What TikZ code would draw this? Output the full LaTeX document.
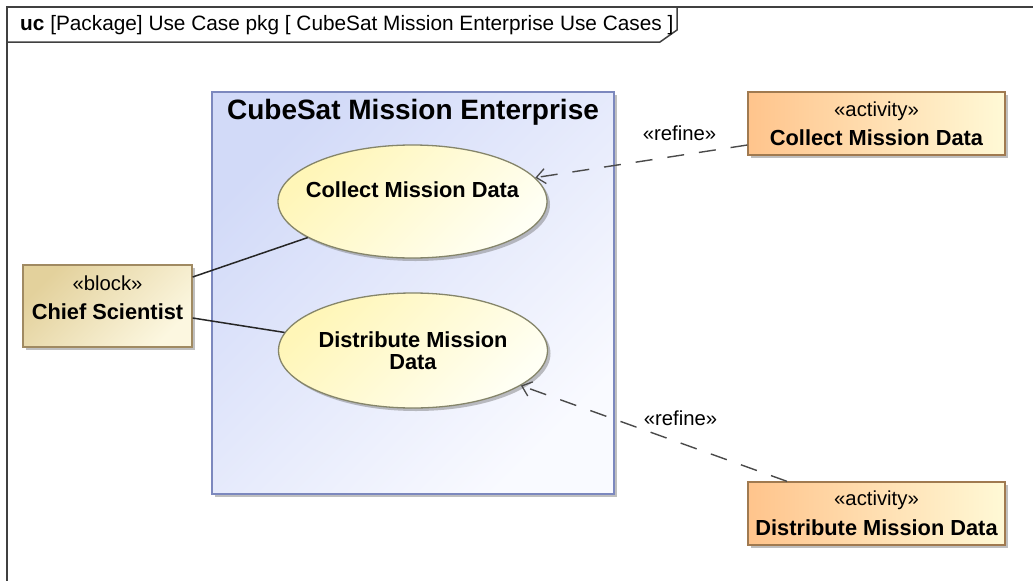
\documentclass[tikz,border=0pt]{standalone}
\usepackage{fontspec}
\setmainfont{Liberation Sans}
\usetikzlibrary{arrows.meta,shadows,shapes.geometric}
\definecolor{frameC}{HTML}{404040}
\definecolor{sysA}{HTML}{D2DAF8}
\definecolor{sysB}{HTML}{F9FAFF}
\definecolor{sysD}{HTML}{7C88BE}
\definecolor{ucA}{HTML}{FFF6B8}
\definecolor{ucB}{HTML}{FFFFF4}
\definecolor{ucD}{HTML}{85856A}
\definecolor{blkA}{HTML}{E3D19C}
\definecolor{blkB}{HTML}{FCF7E0}
\definecolor{blkD}{HTML}{A08A62}
\definecolor{actA}{HTML}{FFC48C}
\definecolor{actB}{HTML}{FFF9D6}
\definecolor{actD}{HTML}{A07A50}
\definecolor{lineC}{HTML}{4A4A4A}
\begin{document}
\begin{tikzpicture}[x=1pt,y=-1pt,
  regf/.style={font=\fontsize{20.3}{24}\selectfont},
  boldf/.style={font=\fontsize{21.8}{22.5}\selectfont\bfseries},
  shad/.style={drop shadow={shadow xshift=3pt,shadow yshift=-3pt,opacity=0.45,fill=black!55}},
  sysbox/.style={draw=sysD,line width=1.5pt,top color=sysA,bottom color=sysB,shading angle=45,
    minimum width=402pt,minimum height=402pt,inner sep=0pt,shad},
  ucase/.style={ellipse,draw=ucD,line width=1.3pt,top color=ucA,bottom color=ucB,shading angle=45,
    minimum width=269pt,inner sep=0pt,shad},
  blkbox/.style={draw=blkD,line width=1.3pt,top color=blkA,bottom color=blkB,shading angle=45,
    minimum width=169pt,minimum height=82pt,inner sep=0pt,shad},
  actbox/.style={draw=actD,line width=1.3pt,left color=actA,right color=actB,
    minimum width=257pt,minimum height=63pt,inner sep=0pt,shad},
  assoc/.style={draw=black!85,line width=1.5pt},
  refine/.style={draw=lineC,line width=1.4pt,dash pattern=on 17pt off 15pt,
    -{Straight Barb[length=9pt,width=15pt,line width=1.3pt]}},
]
\useasboundingbox[fill=white] (0,0) rectangle (1033,581);
% outer frame
\coordinate (ftl) at (7,7);
\coordinate (ftr) at (1033,7);
\coordinate (fbl) at (7,581);
\draw[frameC,line width=1.5pt] (ftr) -- (ftl) -- (fbl);
\coordinate (t1) at (7,42);
\coordinate (t2) at (660,42);
\coordinate (t3) at (677,30);
\coordinate (t4) at (677,7);
\draw[frameC,line width=1.5pt] (t1) -- (t2) -- (t3) -- (t4);
\node[font=\fontsize{20.8}{24}\selectfont,anchor=west,inner sep=0pt] (hdr) at (20,25) {\textbf{uc} [Package] Use Case pkg [ CubeSat Mission Enterprise Use Cases ]};
% system boundary
\node[sysbox] (sys) at (413,293) {};
\node[font=\fontsize{28}{30}\selectfont\bfseries,inner sep=0pt] (ttl) at (413,112) {CubeSat Mission Enterprise};
% use cases
\node[ucase,minimum height=113pt,label={[boldf,yshift=11.5pt]center:Collect Mission Data}] (e1) at (412.5,201.5) {};
\node[ucase,minimum height=115pt,boldf,align=center] (e2) at (413,350.5) {Distribute Mission\\Data};
% block
\node[blkbox,
  label={[regf,yshift=23pt]center:«block»},
  label={[boldf,yshift=-6pt]center:Chief Scientist}] (cs) at (107.5,306) {};
% activities
\node[actbox,
  label={[regf,yshift=12pt]center:«activity»},
  label={[boldf,yshift=-14.5pt]center:Collect Mission Data}] (a1) at (876.5,123.5) {};
\node[actbox,
  label={[regf,yshift=13pt]center:«activity»},
  label={[boldf,yshift=-14.5pt]center:Distribute Mission Data}] (a2) at (876.5,513.5) {};
% connectors
\draw[assoc] ([yshift=29pt]cs.east) -- (e1.199);
\draw[assoc] ([yshift=-12pt]cs.east) -- (e2.172);
\draw[refine] ([yshift=-21.5pt]a1.west) -- (e1.11)
  node[regf,pos=0.32,yshift=22pt,inner sep=0pt,solid] (r1) {«refine»};
\draw[refine] ([xshift=-89.5pt]a2.north) -- (e2.342)
  node[regf,pos=0.40,yshift=25pt,inner sep=0pt,solid] (r2) {«refine»};
\end{tikzpicture}
\end{document}
